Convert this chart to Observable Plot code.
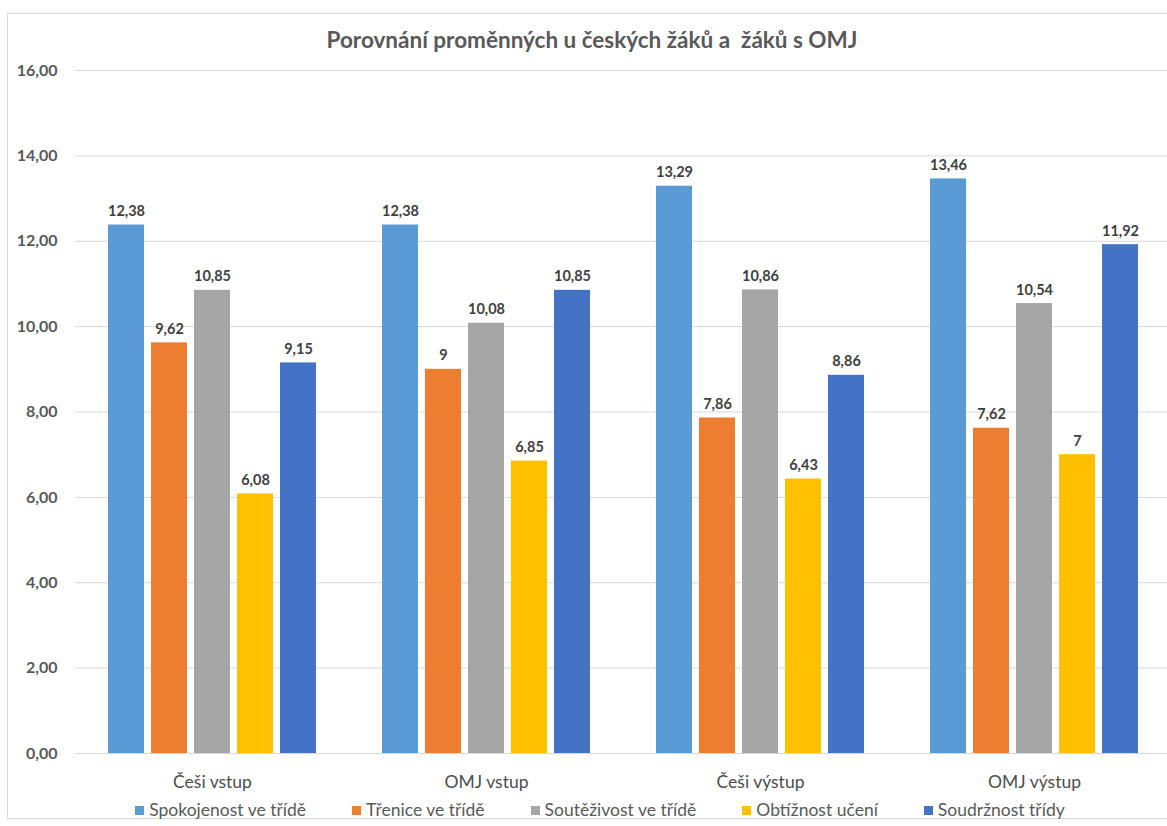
<!DOCTYPE html>
<html>
<head>
<meta charset="utf-8">
<script src="https://cdn.jsdelivr.net/npm/d3@7"></script>
<script src="https://cdn.jsdelivr.net/npm/@observablehq/plot@0.6"></script>
<style>
  html, body { margin: 0; padding: 0; background: #fff; }
  body { width: 1167px; height: 826px; position: relative; overflow: hidden; font-family: Lato, "Open Sans", sans-serif; }
  #frame { position: absolute; left: 7px; top: 13px; width: 1200px; height: 806px; border: 1px solid #d9d9d9; box-sizing: border-box; }
  #title { position: absolute; left: 0; top: 26px; width: 1184px; text-align: center; font-size: 22.5px; line-height: 28px; font-weight: bold; color: #595959; }
  #chart { position: absolute; left: 0; top: 60px; width: 1172px; }
  #legend { position: absolute; left: 0; top: 800px; width: 1200px; display: flex; justify-content: center; gap: 46px; font-size: 17.5px; line-height: 20px; color: #595959; }
  #legend .item { display: flex; align-items: center; gap: 5px; white-space: nowrap; }
  #legend .sw { width: 9px; height: 9px; display: inline-block; }
</style>
</head>
<body>
<div id="frame"></div>
<div id="title">Porovnání proměnných u českých žáků a&nbsp; žáků s OMJ</div>
<div id="chart"></div>
<div id="legend"></div>
<script>
const groups = ["Češi vstup", "OMJ vstup", "Češi výstup", "OMJ výstup"];
const seriesNames = ["Spokojenost ve třídě", "Třenice ve třídě", "Soutěživost ve třídě", "Obtížnost učení", "Soudržnost třídy"];
const spokojenost = [12.38, 12.38, 13.29, 13.46];
const trenice = [9.62, 9, 7.86, 7.62];
const soutezivost = [10.85, 10.08, 10.86, 10.54];
const obtiznost = [6.08, 6.85, 6.43, 7];
const soudrznost = [9.15, 10.85, 8.86, 11.92];
const colors = ["#5B9BD5", "#ED7D31", "#A5A5A5", "#FFC000", "#4472C4"];
const yTicks = [0, 2, 4, 6, 8, 10, 12, 14, 16];

const seriesValues = [spokojenost, trenice, soutezivost, obtiznost, soudrznost];
const data = [];
groups.forEach((g, gi) => {
  seriesNames.forEach((s, si) => {
    data.push({group: g, series: s, value: seriesValues[si][gi]});
  });
});
const czNum = v => String(v).replace(".", ",");
const tickFmt = v => d3.format(".2f")(v).replace(".", ",");

const chart = Plot.plot({
  width: 1172,
  height: 735,
  marginLeft: 75,
  marginRight: 1,
  marginTop: 10,
  marginBottom: 42,
  style: { fontFamily: "Lato, 'Open Sans', sans-serif", background: "transparent", maxWidth: "none" },
  fx: { domain: groups, padding: 0, label: null },
  x: { domain: seriesNames, paddingInner: 0.16, paddingOuter: 0.694, axis: null },
  y: { domain: [0, 16], label: null },
  color: { domain: seriesNames, range: colors },
  marks: [
    Plot.gridY(yTicks, { stroke: "#d9d9d9", strokeOpacity: 1 }),
    Plot.axisY(yTicks, { tickFormat: tickFmt, tickSize: 0, tickPadding: 18, fontSize: 16, fontWeight: "bold", fill: "#595959", label: null }),
    Plot.axisFx({ anchor: "bottom", tickSize: 0, tickPadding: 22, fontSize: 17.5, fill: "#4d4d4d", label: null }),
    Plot.barY(data, { fx: "group", x: "series", y: "value", fill: "series" }),
    Plot.ruleY([0], { stroke: "#d9d9d9" }),
    Plot.text(data, { fx: "group", x: "series", y: "value", text: d => czNum(d.value), dy: -13.5, fontSize: 14.5, fontWeight: "bold", fill: "#404040" })
  ]
});
document.getElementById("chart").appendChild(chart);

const legend = document.getElementById("legend");
seriesNames.forEach((s, i) => {
  const item = document.createElement("div");
  item.className = "item";
  const sw = document.createElement("span");
  sw.className = "sw";
  sw.style.background = colors[i];
  const t = document.createElement("span");
  t.textContent = s;
  item.appendChild(sw);
  item.appendChild(t);
  legend.appendChild(item);
});
</script>
</body>
</html>
